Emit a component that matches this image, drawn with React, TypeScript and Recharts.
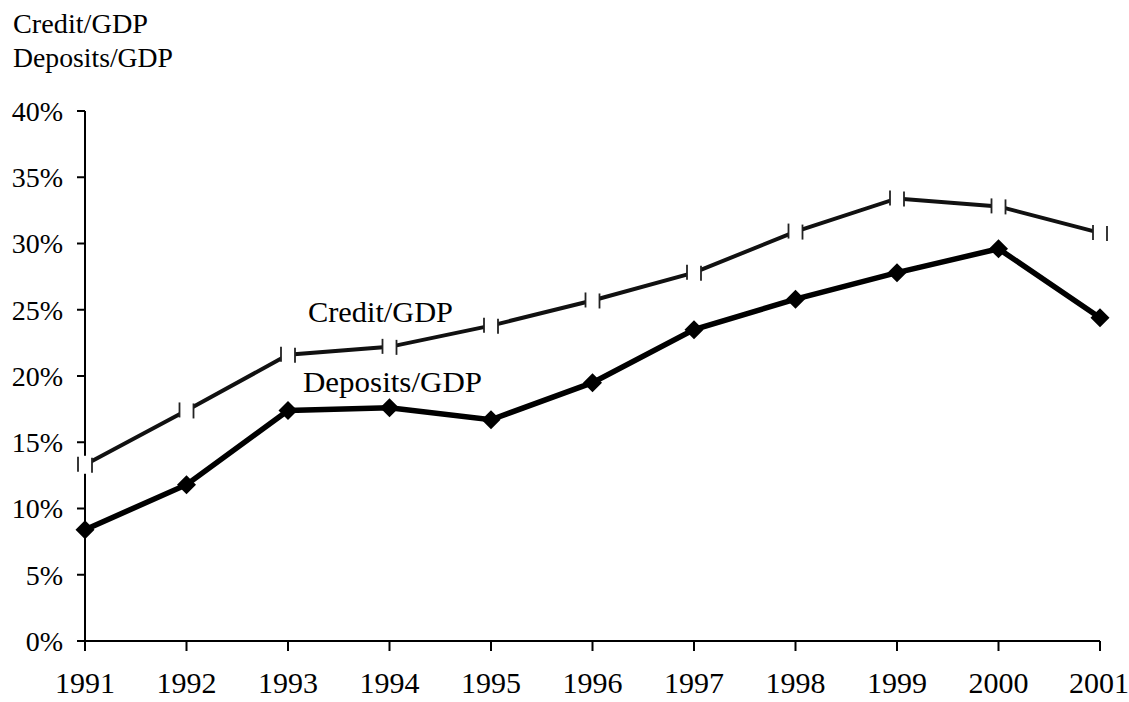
import { LineChart, Line, XAxis, YAxis } from 'recharts'

const years = ['1991', '1992', '1993', '1994', '1995', '1996', '1997', '1998', '1999', '2000', '2001']
const creditGdp = [13.3, 17.4, 21.6, 22.2, 23.8, 25.7, 27.8, 30.9, 33.4, 32.8, 30.8]
const depositsGdp = [8.4, 11.8, 17.4, 17.6, 16.7, 19.5, 23.5, 25.8, 27.8, 29.6, 24.4]
const yTicks = [0, 5, 10, 15, 20, 25, 30, 35, 40]

const data = years.map((year, i) => ({
  year,
  credit: creditGdp[i],
  deposits: depositsGdp[i],
}))

const FONT = '"Liberation Serif", "Times New Roman", serif'

function Diamond(props: any) {
  const { cx, cy } = props
  if (cx == null || cy == null) return null
  const r = 9.5
  return (
    <path
      d={`M${cx},${cy - r} L${cx + r},${cy} L${cx},${cy + r} L${cx - r},${cy} Z`}
      fill="#000"
    />
  )
}

// scanned credit marker: a white gap in the line with a thin bar on each side
function Gap(props: any) {
  const { cx, cy } = props
  if (cx == null || cy == null) return null
  return (
    <g>
      <rect x={cx - 7} y={cy - 9} width={14} height={18} fill="#fff" />
      <line x1={cx - 7} y1={cy - 8} x2={cx - 7} y2={cy + 7} stroke="#222" strokeWidth={1.8} />
      <line x1={cx + 7} y1={cy - 7} x2={cx + 7} y2={cy + 8} stroke="#222" strokeWidth={1.8} />
    </g>
  )
}

export default function App() {
  const yTick = { fontSize: 28, fill: '#000', fontFamily: FONT }
  const xTick = { fontSize: 30, fill: '#000', fontFamily: FONT }
  return (
    <div style={{ position: 'absolute', left: 0, top: 0, width: 1129, height: 702, background: '#fff' }}>
      <LineChart
        width={1129}
        height={702}
        data={data}
        margin={{ top: 111, right: 29, bottom: 0, left: 0 }}
        style={{ overflow: 'visible' }}
      >
        <XAxis
          dataKey="year"
          height={61}
          tick={xTick}
          tickSize={10}
          tickMargin={21}
          stroke="#000"
          strokeWidth={2}
          tickLine={{ stroke: '#000', strokeWidth: 2 }}
        />
        <YAxis
          domain={[0, 40]}
          ticks={yTicks}
          tickFormatter={(v: number) => `${v}%`}
          tick={yTick}
          width={85}
          tickSize={8}
          tickMargin={14}
          stroke="#000"
          strokeWidth={2}
          tickLine={{ stroke: '#000', strokeWidth: 2 }}
        />
        <Line
          dataKey="credit"
          stroke="#111"
          strokeWidth={4}
          dot={<Gap />}
          activeDot={false}
          isAnimationActive={false}
        />
        <Line
          dataKey="deposits"
          stroke="#000"
          strokeWidth={5.5}
          dot={<Diamond />}
          activeDot={false}
          isAnimationActive={false}
        />
      </LineChart>
      <svg
        width={1129}
        height={702}
        style={{ position: 'absolute', left: 0, top: 0, pointerEvents: 'none' }}
        fontFamily={FONT}
        fontSize={28}
        fill="#000"
      >
        <text x={13} y={33} textLength={135} lengthAdjust="spacingAndGlyphs">Credit/GDP</text>
        <text x={13} y={67} textLength={160} lengthAdjust="spacingAndGlyphs">Deposits/GDP</text>
        <text x={308} y={322} fontSize={30} textLength={145} lengthAdjust="spacingAndGlyphs">Credit/GDP</text>
        <text x={303} y={392} fontSize={30} textLength={179} lengthAdjust="spacingAndGlyphs">Deposits/GDP</text>
      </svg>
    </div>
  )
}
